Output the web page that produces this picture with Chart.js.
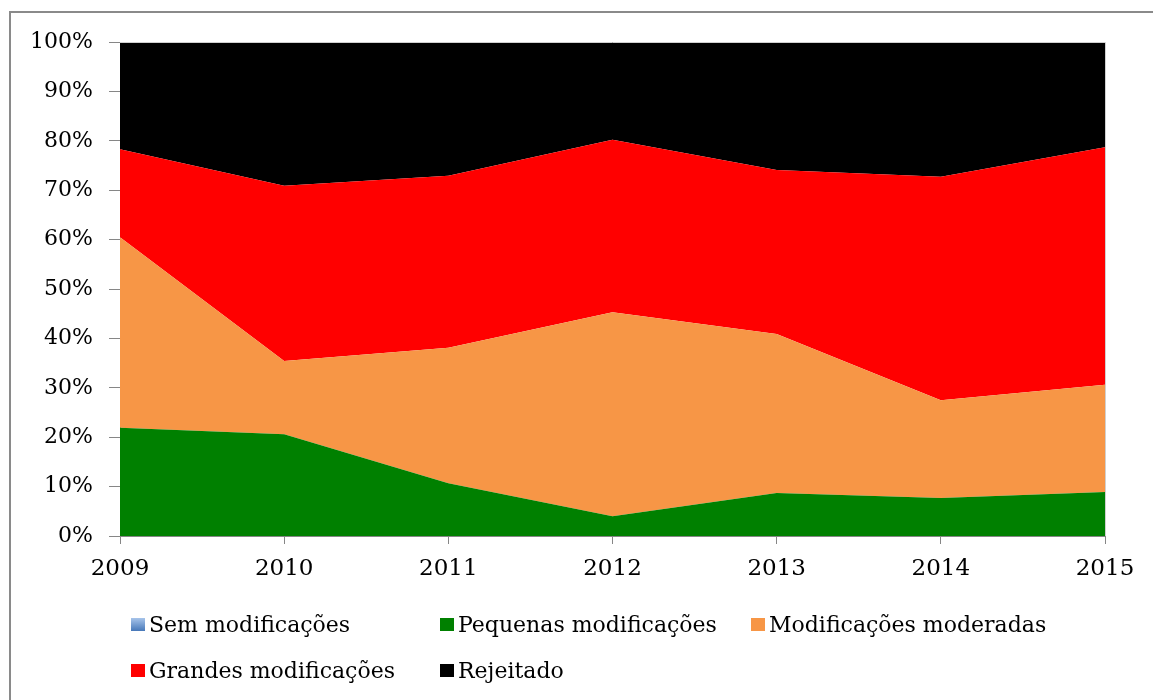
<!DOCTYPE html>
<html>
<head>
<meta charset="utf-8">
<script src="https://cdn.jsdelivr.net/npm/chart.js@4"></script>
<style>
  html, body { margin: 0; padding: 0; background: #fff; overflow: hidden; }
  #wrap { position: relative; width: 1153px; height: 700px; }
</style>
</head>
<body>
<div id="wrap"><canvas id="myChart"></canvas></div>
<script>
const years = ['2009', '2010', '2011', '2012', '2013', '2014', '2015'];
const semModificacoes = [0, 0, 0, 0, 0, 0, 0];
const pequenas = [21.9, 20.6, 10.7, 4.0, 8.7, 7.7, 8.9];
const moderadas = [38.6, 14.8, 27.4, 41.3, 32.2, 19.8, 21.7];
const grandes = [17.8, 35.5, 34.8, 34.9, 33.2, 45.2, 48.1];
const rejeitado = [21.7, 29.1, 27.1, 19.8, 25.9, 27.3, 21.3];
const yTicks = [0, 10, 20, 30, 40, 50, 60, 70, 80, 90, 100];

function area(label, values, color, fill) {
    return {
        label: label,
        data: values,
        backgroundColor: color,
        borderColor: color,
        borderWidth: 0,
        pointRadius: 0,
        tension: 0,
        fill: fill
    };
}

// legend drawn in a grid, like the original
const legendGrid = {
    id: 'legendGrid',
    afterDraw(chart) {
        const ctx = chart.ctx;
        const cols = [131, 440, 751];
        const rows = [625, 671];
        ctx.save();
        ctx.font = '22px "DejaVu Serif"';
        ctx.textBaseline = 'middle';
        chart.data.datasets.forEach((ds, i) => {
            const x = cols[i % 3];
            const y = rows[Math.floor(i / 3)];
            if (i === 0) {
                const g = ctx.createLinearGradient(0, y - 7, 0, y + 7);
                g.addColorStop(0, '#a7c4ea');
                g.addColorStop(1, '#3f72b5');
                ctx.fillStyle = g;
            } else {
                ctx.fillStyle = ds.backgroundColor;
            }
            ctx.fillRect(x, y - 7, 14, 13);
            ctx.fillStyle = '#000';
            ctx.fillText(ds.label, x + 18, y + 1);
        });
        ctx.restore();
    }
};

const frame = {
    id: 'frame',
    beforeDraw(chart) {
        const ctx = chart.ctx;
        ctx.save();
        ctx.fillStyle = '#fff';
        ctx.fillRect(0, 0, chart.width, chart.height);
        ctx.strokeStyle = '#8a8a8a';
        ctx.lineWidth = 2;
        ctx.strokeRect(10, 12, 1300, 900);
        ctx.restore();
    },
    afterDatasetsDraw(chart) {
        const a = chart.chartArea;
        const ctx = chart.ctx;
        ctx.save();
        ctx.strokeStyle = '#d0d0d0';
        ctx.lineWidth = 1;
        ctx.beginPath();
        ctx.moveTo(a.left, a.top + 0.5);
        ctx.lineTo(a.right + 0.5, a.top + 0.5);
        ctx.lineTo(a.right + 0.5, a.bottom);
        ctx.stroke();
        ctx.restore();
    }
};

const config = {
    type: 'line',
    data: {
        labels: years,
        datasets: [
            area('Sem modificações', semModificacoes, '#4f81bd', 'origin'),
            area('Pequenas modificações', pequenas, '#008000', '-1'),
            area('Modificações moderadas', moderadas, '#f79646', '-1'),
            area('Grandes modificações', grandes, '#ff0000', '-1'),
            area('Rejeitado', rejeitado, '#000000', '-1')
        ]
    },
    options: {
        responsive: false,
        animation: false,
        layout: { padding: { left: 0, right: 48, top: 42, bottom: 0 } },
        plugins: {
            legend: { display: false },
            tooltip: { enabled: false }
        },
        scales: {
            x: {
                offset: false,
                grid: { drawOnChartArea: false, color: '#868686', tickLength: 8 },
                border: { color: '#868686' },
                ticks: { color: '#000', font: { family: 'DejaVu Serif', size: 23 }, padding: 11, maxRotation: 0 },
                afterFit(scale) { scale.height = 164; }
            },
            y: {
                stacked: true,
                min: 0,
                max: 100,
                afterBuildTicks(scale) { scale.ticks = yTicks.map(v => ({ value: v })); },
                grid: { drawOnChartArea: false, color: '#868686', tickLength: 11 },
                border: { color: '#868686' },
                ticks: { color: '#000', font: { family: 'DejaVu Serif', size: 22 }, padding: 16, callback: v => v + '%' },
                afterFit(scale) { scale.width = 120; }
            }
        }
    },
    plugins: [frame, legendGrid]
};

const canvas = document.getElementById('myChart');
canvas.width = 1153;
canvas.height = 700;
const myChart = new Chart(canvas, config);
</script>
</body>
</html>
